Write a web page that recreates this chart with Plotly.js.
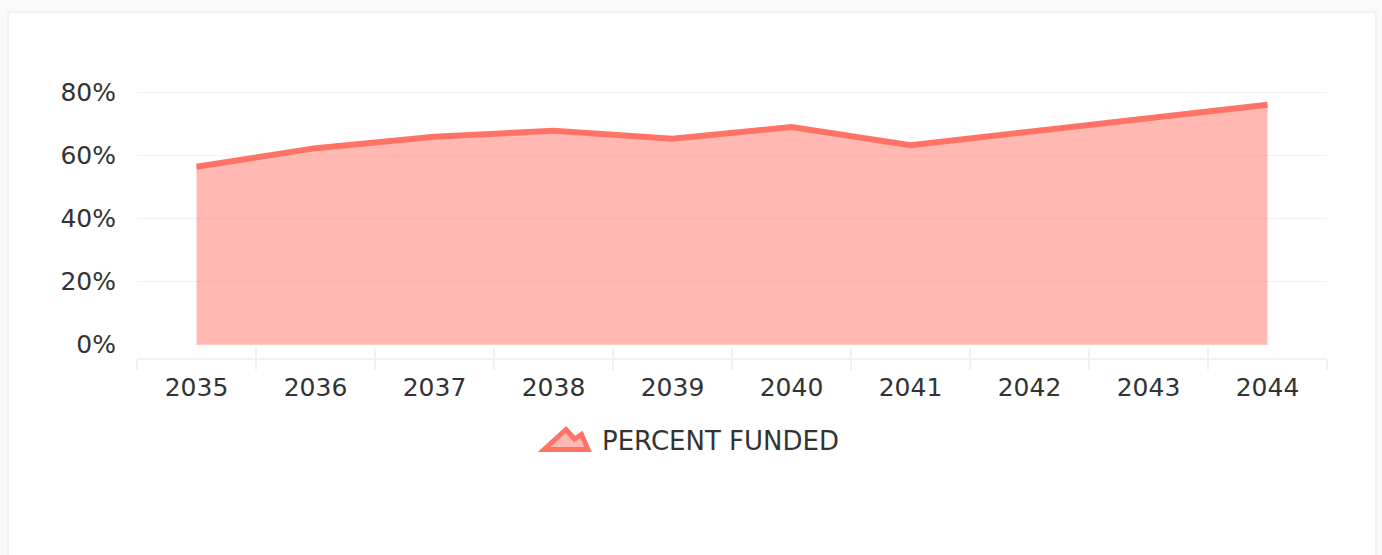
<!DOCTYPE html>
<html>
<head>
<meta charset="utf-8">
<script src="https://cdn.plot.ly/plotly-3.0.1.min.js"></script>
<style>
  html, body { margin: 0; padding: 0; background: #fafafa; width: 1382px; height: 555px; overflow: hidden; }
  #card { position: absolute; left: 7px; top: 11px; width: 1370px; height: 600px; background: #ffffff; border: 2px solid #eef1f5; box-sizing: border-box; }
  #chart { position: absolute; left: 0; top: 0; width: 1382px; height: 555px; }
</style>
</head>
<body>
<div id="card"></div>
<div id="chart"></div>
<script>
// Data
const years = ['2035', '2036', '2037', '2038', '2039', '2040', '2041', '2042', '2043', '2044'];
const percentFunded = [56.5, 62.4, 66.0, 67.9, 65.4, 69.1, 63.3, 67.6, 71.9, 76.2];
const seriesName = 'PERCENT FUNDED';
const gridValues = [20, 40, 60, 80];
const labelValues = [0, 20, 40, 60, 80];
const labelText = ['0%', '20%', '40%', '60%', '80%'];

const lineColor = '#ff7366';
const fillColor = 'rgba(255,115,102,0.5)';
const gridColor = '#eef1f5';
const textColor = '#333333';
const fontFamily = '"DejaVu Sans", Verdana, sans-serif';
const yRange = [-4.22, 80.54];

// plot area geometry (pixels) used to place the custom legend
const W = 1382, H = 555;
const M = { l: 137, r: 55, t: 91, b: 197 };
const plotW = W - M.l - M.r, plotH = H - M.t - M.b;
const px = v => (v - M.l) / plotW;
const py = v => (H - M.b - v) / plotH;

// legend icon (mountain) outline in page pixels
const iconPts = [[544, 449.5], [566, 429.5], [574.5, 439], [581.5, 434.5], [588, 449.5]];
const iconPath = 'M' + iconPts.map(p => px(p[0]).toFixed(5) + ',' + py(p[1]).toFixed(5)).join(' L') + ' Z';

const mainTrace = {
  type: 'scatter',
  mode: 'lines',
  x: years,
  y: percentFunded,
  name: seriesName,
  fill: 'tozeroy',
  fillcolor: fillColor,
  line: { color: lineColor, width: 6 },
  hoverinfo: 'skip',
  showlegend: false
};
// invisible companions so the overlay axes (labels / double-sided ticks) are drawn
const yLabelTrace = {
  type: 'scatter', mode: 'lines', x: years, y: percentFunded,
  xaxis: 'x', yaxis: 'y2', opacity: 0, hoverinfo: 'skip', showlegend: false,
  line: { width: 0 }
};
const xTickTrace = {
  type: 'scatter', mode: 'lines', x: years, y: percentFunded,
  xaxis: 'x2', yaxis: 'y', opacity: 0, hoverinfo: 'skip', showlegend: false,
  line: { width: 0 }
};

const layout = {
  width: W,
  height: H,
  margin: M,
  paper_bgcolor: 'rgba(0,0,0,0)',
  plot_bgcolor: 'rgba(0,0,0,0)',
  font: { family: fontFamily, color: textColor, size: 25 },
  showlegend: false,
  xaxis: {
    type: 'category',
    categoryarray: years,
    range: [-0.5, 9.5],
    tickson: 'boundaries',
    ticks: 'outside',
    ticklen: 10,
    tickwidth: 2,
    tickcolor: gridColor,
    showline: true,
    linecolor: gridColor,
    linewidth: 2,
    showgrid: false,
    zeroline: false,
    ticklabelstandoff: 6,
    tickfont: { family: fontFamily, size: 25, color: textColor },
    fixedrange: true
  },
  xaxis2: {
    type: 'category',
    categoryarray: years,
    overlaying: 'x',
    anchor: 'y',
    side: 'bottom',
    range: [-0.5, 9.5],
    tickson: 'boundaries',
    ticks: 'inside',
    ticklen: 10,
    tickwidth: 2,
    tickcolor: gridColor,
    showticklabels: false,
    showline: false,
    showgrid: false,
    zeroline: false,
    fixedrange: true
  },
  yaxis: {
    range: yRange,
    tickmode: 'array',
    tickvals: gridValues,
    showticklabels: false,
    showgrid: true,
    gridcolor: gridColor,
    gridwidth: 1.5,
    zeroline: false,
    showline: false,
    ticks: '',
    fixedrange: true
  },
  yaxis2: {
    overlaying: 'y',
    anchor: 'x',
    side: 'left',
    range: yRange,
    tickmode: 'array',
    tickvals: labelValues,
    ticktext: labelText,
    showgrid: false,
    zeroline: false,
    showline: false,
    ticks: '',
    ticklabelstandoff: 20,
    tickfont: { family: fontFamily, size: 25, color: textColor },
    fixedrange: true
  },
  shapes: [{
    type: 'path',
    xref: 'paper', yref: 'paper',
    path: iconPath,
    fillcolor: fillColor,
    line: { color: lineColor, width: 5 },
    layer: 'above'
  }],
  annotations: [{
    xref: 'paper', yref: 'paper',
    x: px(600), y: py(441),
    xanchor: 'left', yanchor: 'middle',
    text: seriesName,
    showarrow: false,
    font: { family: fontFamily, size: 26, color: textColor }
  }]
};

Plotly.newPlot('chart', [mainTrace, yLabelTrace, xTickTrace], layout, { displayModeBar: false, staticPlot: true });
</script>
</body>
</html>
